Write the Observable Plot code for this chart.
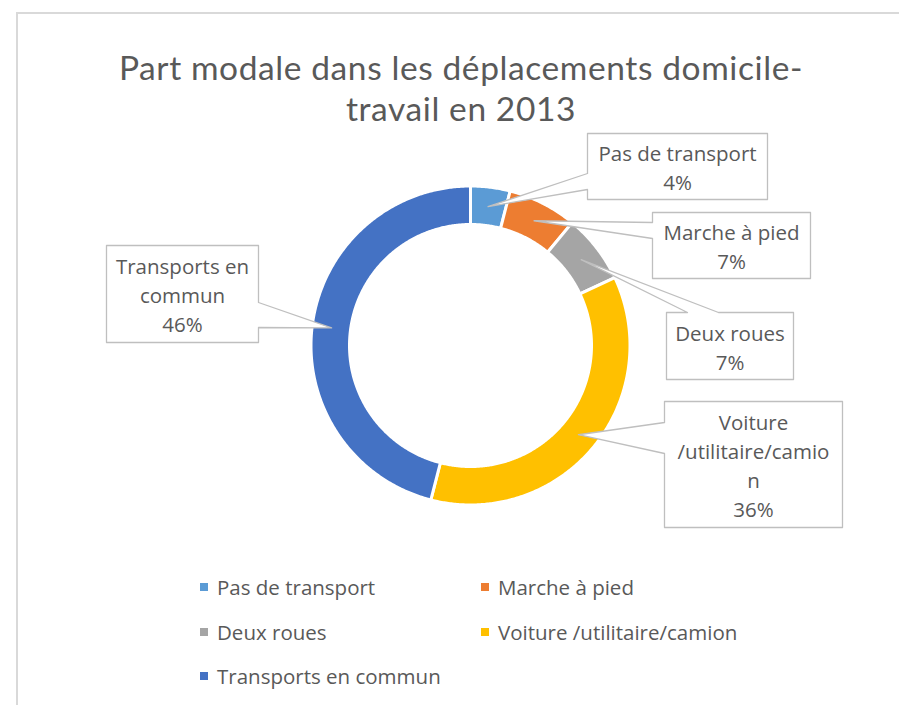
<!DOCTYPE html>
<html>
<head>
<meta charset="utf-8">
<script src="https://cdn.jsdelivr.net/npm/d3@7"></script>
<script src="https://cdn.jsdelivr.net/npm/@observablehq/plot@0.6"></script>
<style>
  body { margin: 0; background: #fff; }
  #wrap { position: relative; width: 899px; height: 705px; overflow: hidden;
          font-family: "Open Sans", Lato, sans-serif; color: #595959; }
  #frame { position: absolute; left: 16px; top: 12px; width: 1000px; height: 1000px;
           border-left: 2px solid #d9d9d9; border-top: 2px solid #d9d9d9; }
  #title { position: absolute; left: 0; width: 922px; top: 47px; text-align: center;
           font-family: Lato, "Open Sans", sans-serif; font-size: 33.5px; letter-spacing: 0.6px;
           line-height: 40.5px; color: #595959; }
  #chart { position: absolute; left: 0; top: 125px; }
  .leg { position: absolute; font-size: 20.5px; line-height: 26px; white-space: nowrap; }
  .leg span.sw { position: absolute; width: 8px; height: 8px; top: 9px; }
</style>
</head>
<body>
<div id="wrap">
  <div id="frame"></div>
  <div id="title">Part modale dans les déplacements domicile-<br>travail en 2013</div>
  <div id="chart"></div>
</div>
<script>
// ---- data ----
const categories = ["Pas de transport", "Marche à pied", "Deux roues", "Voiture /utilitaire/camion", "Transports en commun"];
const values = [4, 7, 7, 36, 46];
const colors = ["#5B9BD5", "#ED7D31", "#A5A5A5", "#FFC000", "#4472C4"];
// data-label text as wrapped in the reference
const labelLines = [["Pas de transport"], ["Marche à pied"], ["Deux roues"], ["Voiture", "/utilitaire/camio", "n"], ["Transports en", "commun"]];

// ---- layout (page pixels) ----
const CX = 470, CY = 345, SVG_TOP = 125, SVG_H = 420, W = 899;
const R_OUT = 159.5, R_IN = 121, R_LABEL = 140;
const boxes = [
  {x1: 587, x2: 767, y1: 133, y2: 199, side: "left",  b: [173, 189]},
  {x1: 652, x2: 810, y1: 212, y2: 278, side: "left",  b: [222, 238]},
  {x1: 666, x2: 793, y1: 312, y2: 379, side: "top",   b: [687, 718]},
  {x1: 664, x2: 842, y1: 401, y2: 527, side: "left",  b: [422, 453]},
  {x1: 106, x2: 258, y1: 245, y2: 342, side: "right", b: [302, 327]}
];
const legendPos = [
  {x: 200, y: 574}, {x: 481, y: 574},
  {x: 200, y: 619}, {x: 481, y: 619},
  {x: 200, y: 663}
];

// page px -> data units (centred on donut, y up)
const dx = px => px - CX;
const dy = py => CY - py;

// ---- slices ----
const total = d3.sum(values);
let acc = 0;
const slices = categories.map((c, i) => {
  const a0 = acc / total * 2 * Math.PI; acc += values[i];
  const a1 = acc / total * 2 * Math.PI;
  return {cat: c, i, a0, a1, mid: (a0 + a1) / 2};
});
const ringPts = slices.flatMap(s => {
  const n = Math.max(4, Math.ceil((s.a1 - s.a0) / (Math.PI / 360)));
  const pts = [];
  for (let k = 0; k <= n; k++) { const a = s.a0 + (s.a1 - s.a0) * k / n; pts.push({cat: s.cat, x: R_OUT * Math.sin(a), y: R_OUT * Math.cos(a)}); }
  for (let k = n; k >= 0; k--) { const a = s.a0 + (s.a1 - s.a0) * k / n; pts.push({cat: s.cat, x: R_IN * Math.sin(a), y: R_IN * Math.cos(a)}); }
  pts.push({...pts[0]});
  return pts;
});

// ---- callouts ----
const calloutPts = slices.flatMap(s => {
  const b = boxes[s.i];
  const apex = [R_LABEL * Math.sin(s.mid), R_LABEL * Math.cos(s.mid)];
  const P = (x, y) => [dx(x), dy(y)];
  let poly;
  if (b.side === "left") {
    poly = [P(b.x1, b.y1), P(b.x2, b.y1), P(b.x2, b.y2), P(b.x1, b.y2), P(b.x1, b.b[1]), apex, P(b.x1, b.b[0])];
  } else if (b.side === "top") {
    poly = [P(b.x1, b.y1), P(b.b[0], b.y1), apex, P(b.b[1], b.y1), P(b.x2, b.y1), P(b.x2, b.y2), P(b.x1, b.y2)];
  } else {
    poly = [P(b.x1, b.y1), P(b.x2, b.y1), P(b.x2, b.b[0]), apex, P(b.x2, b.b[1]), P(b.x2, b.y2), P(b.x1, b.y2)];
  }
  poly.push(poly[0]);
  return poly.map(([x, y]) => ({id: s.cat, x, y}));
});
const labels = slices.map(s => {
  const b = boxes[s.i];
  return {x: dx((b.x1 + b.x2) / 2), y: dy((b.y1 + b.y2) / 2), text: [...labelLines[s.i], values[s.i] + "%"].join("\n")};
});

const plot = Plot.plot({
  width: W, height: SVG_H,
  margin: 0,
  x: {domain: [dx(0), dx(W)], axis: null},
  y: {domain: [dy(SVG_TOP + SVG_H), dy(SVG_TOP)], axis: null},
  color: {domain: categories, range: colors},
  style: {background: "transparent", overflow: "visible"},
  marks: [
    Plot.line(ringPts, {x: "x", y: "y", z: "cat", fill: "cat", stroke: "white", strokeWidth: 3, curve: "linear"}),
    Plot.line(calloutPts, {x: "x", y: "y", z: "id", fill: "white", stroke: "#bfbfbf", strokeWidth: 1.3, curve: "linear"}),
    Plot.text(labels, {x: "x", y: "y", text: "text", fill: "#595959", fontSize: 20.5, lineHeight: 29 / 20.5,
      fontFamily: "'Open Sans', Lato, sans-serif", textAnchor: "middle"})
  ]
});
document.getElementById("chart").appendChild(plot);

// ---- legend ----
const wrap = document.getElementById("wrap");
categories.forEach((c, i) => {
  const d = document.createElement("div");
  d.className = "leg";
  d.style.left = legendPos[i].x + "px";
  d.style.top = legendPos[i].y + "px";
  d.style.paddingLeft = "17px";
  d.innerHTML = `<span class="sw" style="left:0;background:${colors[i]}"></span>${c}`;
  wrap.appendChild(d);
});
</script>
</body>
</html>
